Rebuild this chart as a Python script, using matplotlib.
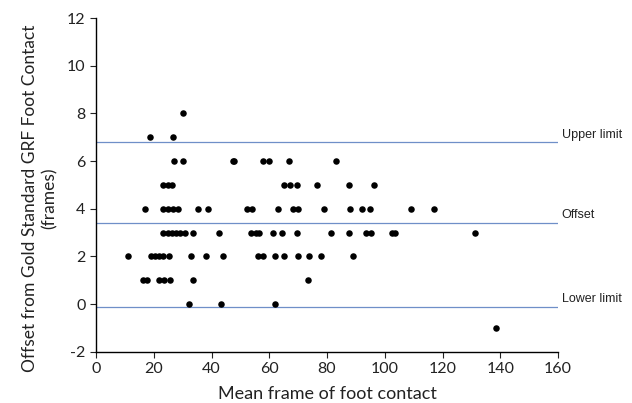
import matplotlib
matplotlib.use("Agg")
import matplotlib.pyplot as plt

plt.rcParams["axes.unicode_minus"] = False

# Data: mean frame (x) grouped by offset value (y)
offset_levels = [8, 7, 6, 5, 4, 3, 2, 1, 0, -1]
mean_frames = [
    [30.0],
    [18.6, 26.5],
    [27.0, 30.0, 47.3, 47.9, 57.9, 60.0, 66.9, 83.0],
    [23.3, 24.8, 26.4, 65.2, 67.2, 69.5, 76.4, 87.5, 96.4],
    [17.0, 23.1, 25.0, 26.5, 28.3, 35.2, 38.9, 52.2, 54.1, 62.9, 68.1, 70.1,
     79.1, 88.0, 92.0, 95.0, 109.0, 117.0],
    [23.3, 24.8, 26.3, 27.7, 29.2, 30.8, 33.5, 42.6, 53.6, 55.3, 56.6, 61.4,
     64.4, 69.7, 81.5, 87.5, 93.4, 95.2, 102.4, 103.5, 131.3],
    [11.2, 18.9, 20.3, 21.7, 23.1, 25.3, 32.9, 38.0, 43.8, 56.0, 57.9, 62.1,
     65.1, 70.1, 73.9, 77.9, 88.9],
    [16.4, 17.5, 21.9, 23.6, 25.6, 33.7, 73.5],
    [32.1, 43.2, 62.1],
    [138.4],
]

limit_names = ["Upper limit", "Offset", "Lower limit"]
limit_values = [6.8, 3.42, -0.1]

x_ticks = [0, 20, 40, 60, 80, 100, 120, 140, 160]
y_ticks = [-2, 0, 2, 4, 6, 8, 10, 12]

xs, ys = [], []
for lvl, frames in zip(offset_levels, mean_frames):
    for f in frames:
        xs.append(f)
        ys.append(lvl)

fig = plt.figure(figsize=(6.32, 4.03), dpi=100)
ax = fig.add_axes([0.152, 0.127, 0.731, 0.828])

line_color = "#6f8fc8"
for name, val in zip(limit_names, limit_values):
    ax.axhline(val, color=line_color, lw=0.9, zorder=1)
    ax.text(1.008, val + 0.3, name, transform=ax.get_yaxis_transform(),
            fontsize=9, family="Liberation Sans", color="#222222",
            va="center", ha="left")

ax.scatter(xs, ys, s=22, color="black", zorder=3, linewidths=0)

ax.set_xlim(0, 160)
ax.set_ylim(-2, 12)
ax.set_xticks(x_ticks)
ax.set_yticks(y_ticks)
ax.tick_params(labelsize=11.5, length=4, direction="out", colors="#222222")
for lab in ax.get_xticklabels() + ax.get_yticklabels():
    lab.set_family("Lato")

ax.spines["top"].set_visible(False)
ax.spines["right"].set_visible(False)
ax.spines["left"].set_linewidth(1.0)
ax.spines["bottom"].set_linewidth(1.0)

ax.set_xlabel("Mean frame of foot contact", fontsize=13, family="Lato",
              color="#222222", labelpad=7)
ax.set_ylabel("Offset from Gold Standard GRF Foot Contact\n(frames)",
              fontsize=12.5, family="Lato", color="#222222",
              linespacing=1.3)
ax.yaxis.set_label_coords(-0.082, 0.46)

fig.savefig("out.png", dpi=100)
